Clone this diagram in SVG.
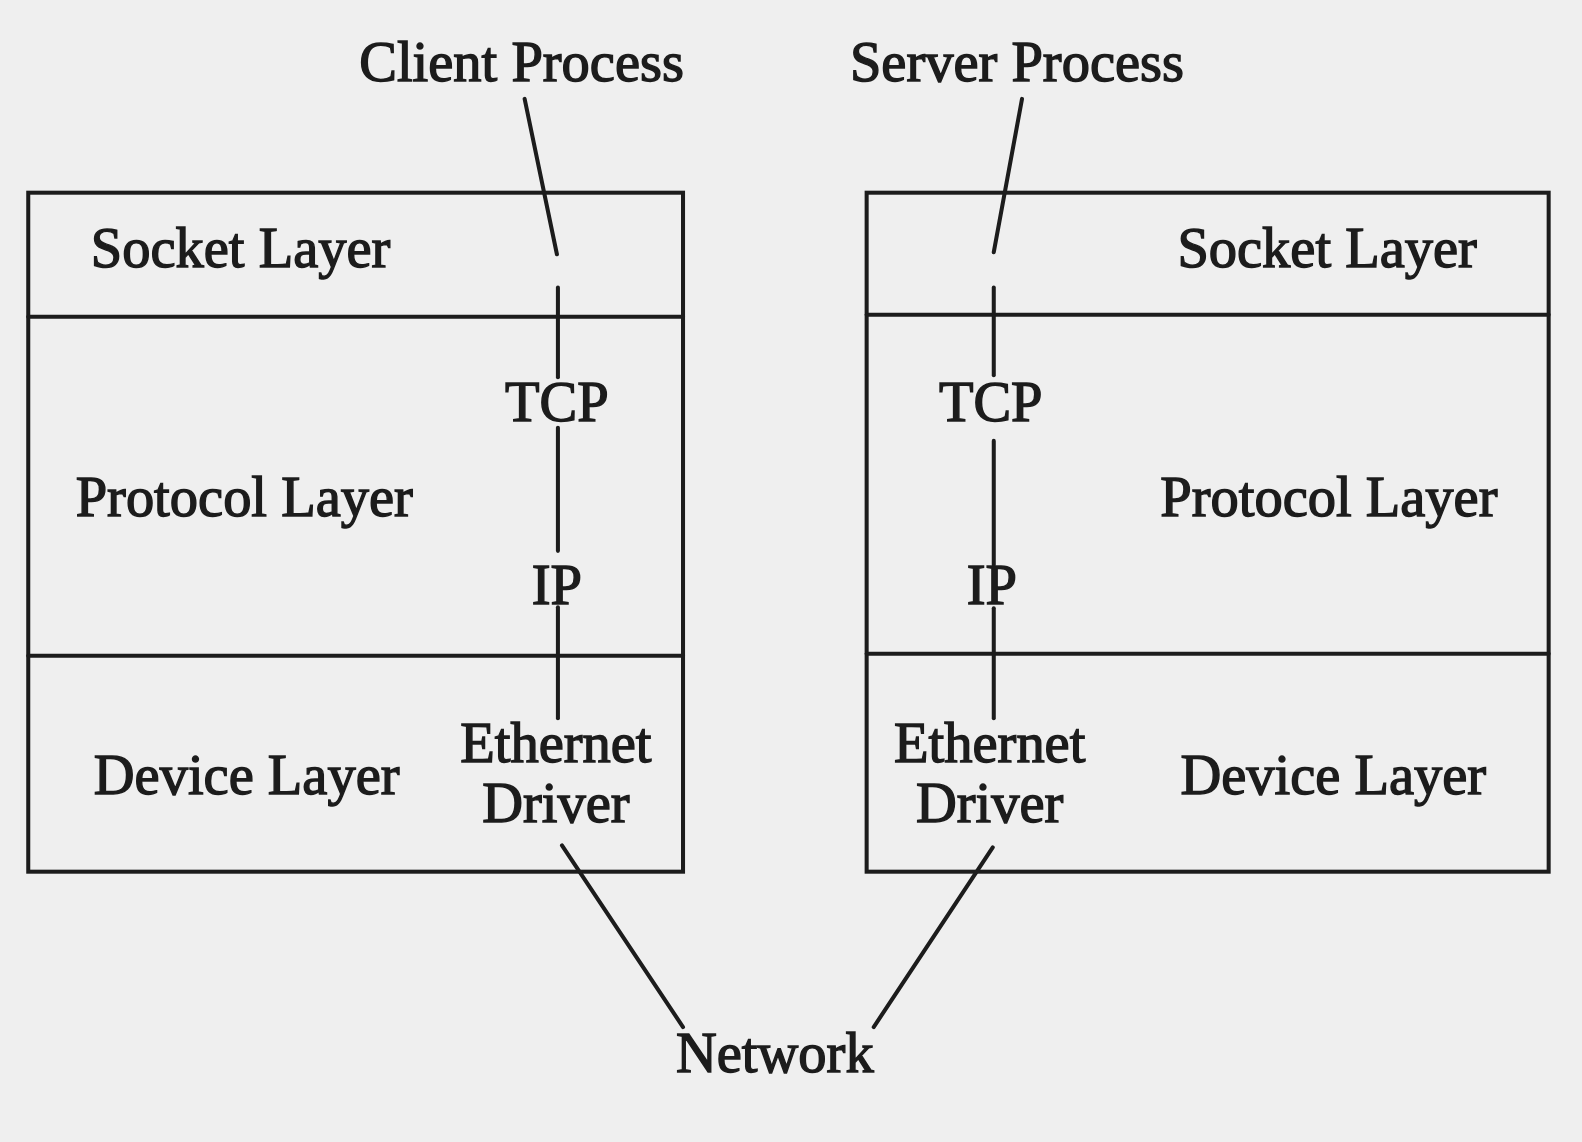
<svg xmlns="http://www.w3.org/2000/svg" width="1582" height="1142" viewBox="0 0 1582 1142">
<style>
text{font-family:"Liberation Serif","Times New Roman",serif;font-size:56px;fill:#1c1c1c;stroke:#1c1c1c;stroke-width:1.4px}
.m{text-anchor:middle}
.box{fill:none;stroke:#1c1c1c;stroke-width:4}
.ln{stroke:#1c1c1c;stroke-width:4;fill:none;stroke-linecap:round}
</style>
<rect width="1582" height="1142" fill="#efefef"/>
<g transform="scale(1.0089)">
<g id="client-stack">
<rect class="box" x="28" y="191" width="649" height="673"/>
<line class="ln" x1="28" y1="314" x2="677" y2="314"/>
<line class="ln" x1="28" y1="650" x2="677" y2="650"/>
<text x="90" y="265">Socket Layer</text>
<text x="75" y="511">Protocol Layer</text>
<text x="93" y="787">Device Layer</text>
<text class="m" x="552" y="417">TCP</text>
<text class="m" x="552" y="599">IP</text>
<text class="m" x="551" y="755">Ethernet</text>
<text class="m" x="551" y="815">Driver</text>
</g>
<g id="server-stack">
<rect class="box" x="859" y="191" width="676" height="673"/>
<line class="ln" x1="859" y1="312" x2="1535" y2="312"/>
<line class="ln" x1="859" y1="648" x2="1535" y2="648"/>
<text x="1167" y="265">Socket Layer</text>
<text x="1150" y="511">Protocol Layer</text>
<text x="1170" y="787">Device Layer</text>
<text class="m" x="982" y="417">TCP</text>
<text class="m" x="983" y="599">IP</text>
<text class="m" x="981" y="755">Ethernet</text>
<text class="m" x="981" y="815">Driver</text>
</g>
<g id="client-process"><text class="m" x="517" y="80">Client Process</text></g>
<g id="server-process"><text class="m" x="1008" y="80">Server Process</text></g>
<g id="network"><text class="m" x="768" y="1063">Network</text></g>
<g id="connectors">
<line class="ln" x1="520" y1="98" x2="552" y2="252"/>
<line class="ln" x1="553" y1="285" x2="553" y2="374"/>
<line class="ln" x1="553" y1="424" x2="553" y2="546"/>
<line class="ln" x1="553" y1="602" x2="553" y2="712"/>
<line class="ln" x1="1013" y1="98" x2="985" y2="250"/>
<line class="ln" x1="985" y1="285" x2="985" y2="372"/>
<line class="ln" x1="985" y1="437" x2="985" y2="560"/>
<line class="ln" x1="985" y1="603" x2="985" y2="712"/>
<line class="ln" x1="557" y1="838" x2="677" y2="1018"/>
<line class="ln" x1="984" y1="840" x2="866" y2="1018"/>
</g>
</g>
</svg>
